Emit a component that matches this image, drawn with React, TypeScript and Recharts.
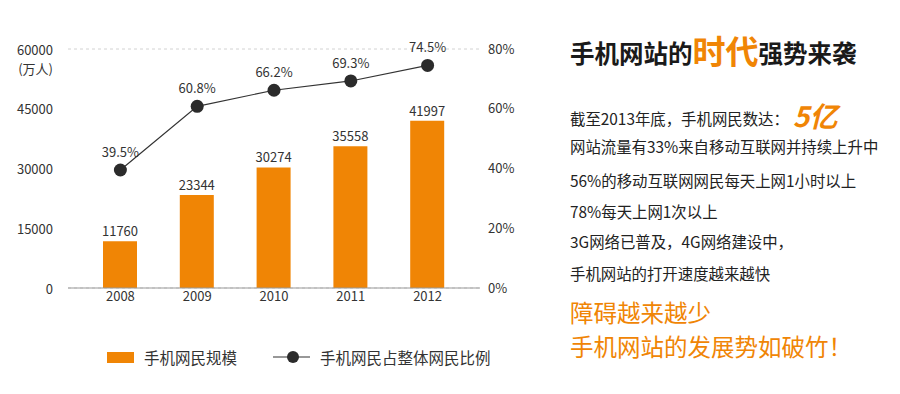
import React from "react";
import {
  ComposedChart,
  Bar,
  Line,
  XAxis,
  YAxis,
  CartesianGrid,
  LabelList,
} from "recharts";

const years = ["2008", "2009", "2010", "2011", "2012"];
const users = [11760, 23344, 30274, 35558, 41997];
const shares = [39.5, 60.8, 66.2, 69.3, 74.5];
const leftTicks = [0, 15000, 30000, 45000, 60000];
const rightTicks = [0, 20, 40, 60, 80];

const data = years.map((y, i) => ({ year: y, users: users[i], share: shares[i] }));

const ORANGE = "#F08505";
const FONT = "'Noto Sans CJK SC', 'Noto Sans', sans-serif";

const LeftTick = (props: any) => {
  const { x, y, payload } = props;
  return (
    <g>
      <text x={x} y={y} textAnchor="end" dominantBaseline="central" fill="#333" fontSize={13} fontFamily={FONT}>
        {payload.value}
      </text>
      {payload.value === 60000 ? (
        <text x={x} y={y + 19} textAnchor="end" dominantBaseline="central" fill="#333" fontSize={13} fontFamily={FONT}>
          (万人)
        </text>
      ) : null}
    </g>
  );
};

export default function App() {
  const textStyle: React.CSSProperties = {
    position: "absolute",
    left: 570,
    fontSize: 15.4,
    color: "#222",
    whiteSpace: "nowrap",
    lineHeight: 1,
    fontFamily: FONT,
  };
  return (
    <div style={{ position: "absolute", left: 0, top: 0, width: 900, height: 394, background: "#fff", fontFamily: FONT }}>
      <div style={{ position: "absolute", left: 0, top: 0 }}>
        <ComposedChart width={540} height={394} data={data} margin={{ top: 49, right: 0, left: 0, bottom: 76 }}>
          <CartesianGrid vertical={false} stroke="#d2d2d2" strokeDasharray="3 3" />
          <XAxis
            dataKey="year"
            padding={{ left: 14, right: 14 }}
            axisLine={{ stroke: "#999" }}
            tickLine={false}
            tickSize={0}
            tickMargin={4}
            tick={{ fill: "#333", fontSize: 13, fontFamily: FONT }}
          />
          <YAxis
            yAxisId="left"
            orientation="left"
            width={68}
            domain={[0, 60000]}
            ticks={leftTicks}
            axisLine={false}
            tickLine={false}
            tickSize={0}
            tickMargin={15}
            tick={<LeftTick />}
          />
          <YAxis
            yAxisId="right"
            orientation="right"
            width={60}
            domain={[0, 80]}
            ticks={rightTicks}
            axisLine={false}
            tickLine={false}
            tickSize={0}
            tickMargin={8}
            tickFormatter={(v: number) => `${v}%`}
            tick={{ fill: "#333", fontSize: 13, fontFamily: FONT }}
          />
          <Bar yAxisId="left" dataKey="users" fill={ORANGE} barSize={34} isAnimationActive={false}>
            <LabelList dataKey="users" position="top" offset={5} fill="#333" fontSize={13} fontFamily={FONT} />
          </Bar>
          <Line
            yAxisId="right"
            dataKey="share"
            stroke="#333"
            strokeWidth={1.2}
            dot={{ r: 6.5, fill: "#2b2b2b", stroke: "none" }}
            activeDot={false}
            isAnimationActive={false}
          >
            <LabelList
              dataKey="share"
              position="top"
              offset={13}
              fill="#333"
              fontSize={13}
              fontFamily={FONT}
              formatter={(v: any) => `${v}%`}
            />
          </Line>
        </ComposedChart>
      </div>

      {/* Legend */}
      <div style={{ position: "absolute", left: 107, top: 346, display: "flex", alignItems: "center", fontSize: 15.5, color: "#333", whiteSpace: "nowrap" }}>
        <span style={{ display: "inline-block", width: 27, height: 11, background: ORANGE }} />
        <span style={{ marginLeft: 10 }}>手机网民规模</span>
        <svg width={38} height={16} style={{ marginLeft: 36 }}>
          <line x1={0} y1={8} x2={37} y2={8} stroke="#333" strokeWidth={1.2} />
          <circle cx={20} cy={8} r={6} fill="#2b2b2b" />
        </svg>
        <span style={{ marginLeft: 9 }}>手机网民占整体网民比例</span>
      </div>

      {/* Right text panel */}
      <div style={{ ...textStyle, top: 34, fontSize: 24.5, fontWeight: 700, color: "#1a1a1a", display: "flex", alignItems: "flex-end" }}>
        <span>手机网站的</span>
        <span style={{ color: ORANGE, fontSize: 33, lineHeight: 1, marginBottom: -2 }}>时代</span>
        <span>强势来袭</span>
      </div>
      <div style={{ ...textStyle, top: 101, display: "flex", alignItems: "flex-end" }}>
        <span>截至2013年底，手机网民数达：</span>
        <span style={{ color: ORANGE, fontSize: 28, fontWeight: 700, fontStyle: "italic", marginLeft: 4, marginBottom: -3 }}>5亿</span>
      </div>
      <div style={{ ...textStyle, top: 139 }}>网站流量有33%来自移动互联网并持续上升中</div>
      <div style={{ ...textStyle, top: 173 }}>56%的移动互联网网民每天上网1小时以上</div>
      <div style={{ ...textStyle, top: 204 }}>78%每天上网1次以上</div>
      <div style={{ ...textStyle, top: 234 }}>3G网络已普及，4G网络建设中，</div>
      <div style={{ ...textStyle, top: 266 }}>手机网站的打开速度越来越快</div>
      <div style={{ ...textStyle, top: 301, fontSize: 23.5, color: ORANGE }}>障碍越来越少</div>
      <div style={{ ...textStyle, top: 335, fontSize: 23.5, color: ORANGE }}>手机网站的发展势如破竹！</div>
    </div>
  );
}
